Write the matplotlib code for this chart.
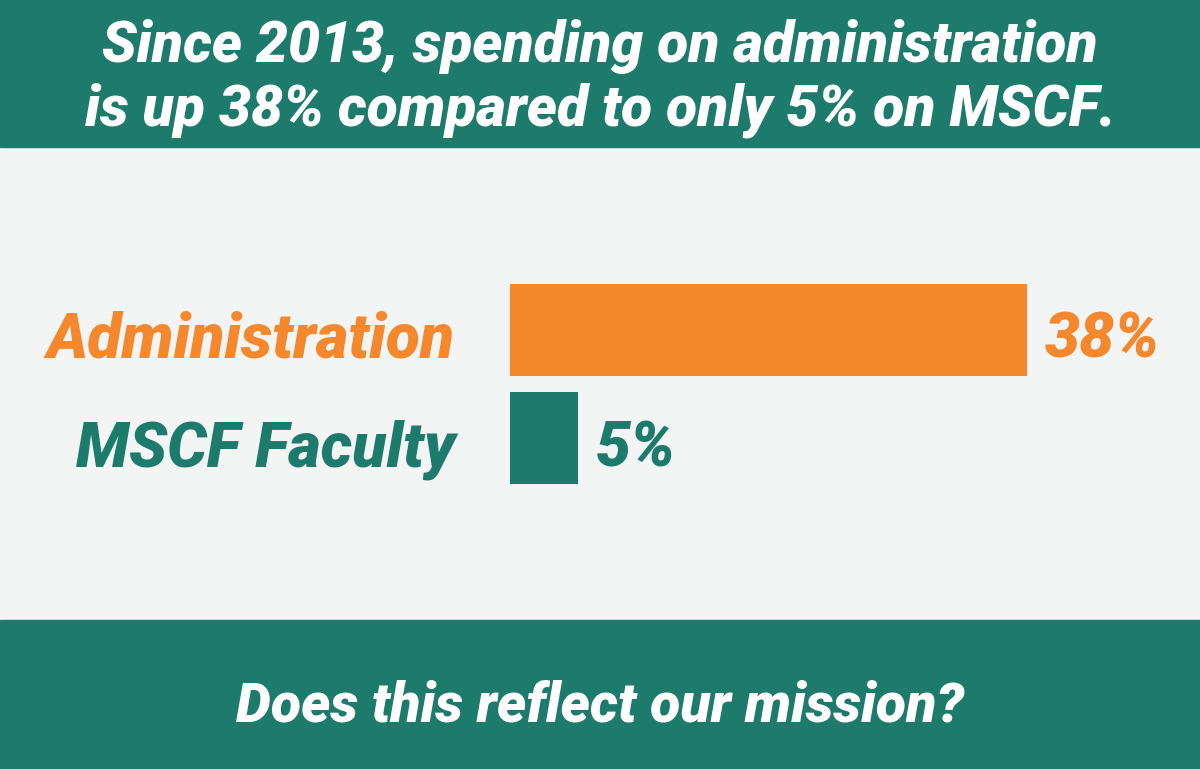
import matplotlib
matplotlib.use("Agg")
import matplotlib.pyplot as plt
from matplotlib.patches import Rectangle

categories = ["Administration", "MSCF Faculty"]
values = [38, 5]
value_labels = ["38%", "5%"]
title_lines = ["Since 2013, spending on administration",
               "is up 38% compared to only 5% on MSCF."]
footer = "Does this reflect our mission?"

TEAL = "#1D7B6C"
ORANGE = "#F5882C"
BG = "#F3F4F4"
colors = [ORANGE, TEAL]

W, H = 1200, 769
PT = 72 / 100  # points per pixel
fig = plt.figure(figsize=(W / 100, H / 100), dpi=100)
fig.patch.set_facecolor(BG)

def fy(px):
    return 1 - px / H

fig.patches.append(Rectangle((0, fy(147)), 1, 147 / H, transform=fig.transFigure,
                             color=TEAL, zorder=0))
fig.patches.append(Rectangle((0, 0), 1, (H - 620) / H, transform=fig.transFigure,
                             color=TEAL, zorder=0))

font = dict(family="Roboto", weight="black", style="italic")

fig.text(0.5, fy(62), title_lines[0], ha="center", va="baseline", color="white",
         fontsize=41, **font)
fig.text(0.5, fy(125), title_lines[1], ha="center", va="baseline", color="white",
         fontsize=41, **font)
fig.text(0.5, fy(722), footer, ha="center", va="baseline", color="white",
         fontsize=40, **font)

# chart axes
left_px, right_px = 510, 1027
top_px, bot_px = 270, 500
ax = fig.add_axes([left_px / W, fy(bot_px), (right_px - left_px) / W,
                   (bot_px - top_px) / H])
ax.set_facecolor("none")
unit = 108.5
ypos = list(range(len(categories)))
ax.barh(ypos, values, height=92 / unit, color=colors, zorder=2)
ax.set_xlim(0, max(values))
ax.set_ylim((bot_px - 330) / unit, -(330 - top_px) / unit)
ax.axis("off")

for y, v, cat, t, c in zip(ypos, values, categories, value_labels, colors):
    ax.annotate(cat, (0, y), xytext=(-55 * PT, -28 * PT), textcoords="offset points",
                ha="right", va="baseline", color=c, fontsize=45, **font,
                annotation_clip=False)
    ax.annotate(t, (v, y), xytext=(18 * PT, -28 * PT), textcoords="offset points",
                ha="left", va="baseline", color=c, fontsize=45, **font,
                annotation_clip=False)

fig.savefig("out.png", dpi=100, facecolor=BG)
